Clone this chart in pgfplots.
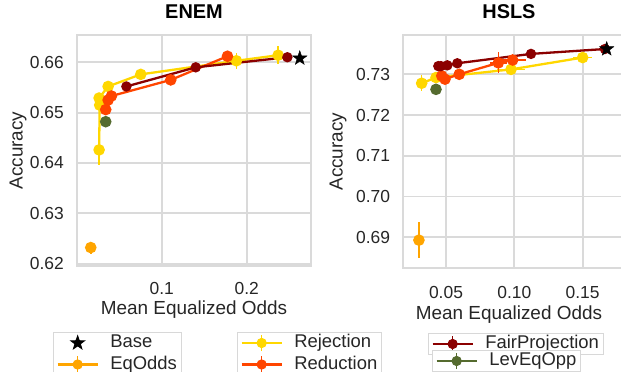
\documentclass[border=0pt]{standalone}
\usepackage{fontspec}
\setmainfont{Liberation Sans}
\usepackage{pgfplots}
\pgfplotsset{compat=1.18}
\usepackage{pgfplotstable}

\definecolor{rejc}{HTML}{FFD700}
\definecolor{eqc}{HTML}{FFA500}
\definecolor{redc}{HTML}{FF4500}
\definecolor{fpc}{HTML}{8B0000}
\definecolor{levc}{HTML}{556B2F}
\definecolor{gridc}{HTML}{DADADA}
\definecolor{legc}{HTML}{D8D8D8}
\definecolor{txt}{HTML}{262626}

\pgfdeclareplotmark{fstar}{%
 \pgfpathmoveto{\pgfpointpolar{90}{\pgfplotmarksize}}%
 \pgfpathlineto{\pgfpointpolar{126}{0.4\pgfplotmarksize}}%
 \pgfpathlineto{\pgfpointpolar{162}{\pgfplotmarksize}}%
 \pgfpathlineto{\pgfpointpolar{198}{0.4\pgfplotmarksize}}%
 \pgfpathlineto{\pgfpointpolar{234}{\pgfplotmarksize}}%
 \pgfpathlineto{\pgfpointpolar{270}{0.4\pgfplotmarksize}}%
 \pgfpathlineto{\pgfpointpolar{306}{\pgfplotmarksize}}%
 \pgfpathlineto{\pgfpointpolar{342}{0.4\pgfplotmarksize}}%
 \pgfpathlineto{\pgfpointpolar{18}{\pgfplotmarksize}}%
 \pgfpathlineto{\pgfpointpolar{54}{0.4\pgfplotmarksize}}%
 \pgfpathclose
 \pgfusepathqfillstroke}

% ENEM data
\pgfplotstableread{
x y ex ey
0.0263 0.6426 0.0005 0.0030
0.0270 0.6515 0.0005 0.0008
0.0263 0.6529 0.0005 0.0008
0.0369 0.6552 0.0005 0.0005
0.0753 0.6576 0.0010 0.0004
0.1878 0.6603 0.0060 0.0016
0.2369 0.6614 0.0030 0.0018
}\enemrej
\pgfplotstableread{
x y ex ey
0.0341 0.6506 0.0010 0.0004
0.0369 0.6525 0.0010 0.0004
0.0408 0.6533 0.0010 0.0004
0.1106 0.6565 0.0020 0.0004
0.1773 0.6612 0.0020 0.0004
}\enemred
\pgfplotstableread{
x y ex ey
0.0584 0.6552 0.0010 0.0003
0.1400 0.6590 0.0010 0.0003
0.2478 0.6610 0.0010 0.0003
}\enemfp
\pgfplotstableread{
x y ex ey
0.0165 0.6232 0.0010 0.0012
}\enemeq
\pgfplotstableread{
x y ex ey
0.0341 0.6482 0.0005 0.0003
}\enemlev
\pgfplotstableread{
x y
0.2624 0.6608
}\enembase

% HSLS data
\pgfplotstableread{
x y ex ey
0.0322 0.7278 0.0040 0.0020
0.0427 0.7292 0.0020 0.0008
0.0976 0.7312 0.0100 0.0008
0.1500 0.7341 0.0070 0.0008
}\hslsrej
\pgfplotstableread{
x y ex ey
0.0469 0.7296 0.0020 0.0008
0.0493 0.7288 0.0020 0.0008
0.0597 0.7300 0.0020 0.0008
0.0883 0.7328 0.0060 0.0026
0.0988 0.7335 0.0100 0.0015
}\hslsred
\pgfplotstableread{
x y ex ey
0.0444 0.7320 0.0010 0.0004
0.0463 0.7320 0.0010 0.0004
0.0510 0.7322 0.0010 0.0004
0.0583 0.7327 0.0010 0.0004
0.1122 0.7350 0.0010 0.0004
0.1663 0.7362 0.0010 0.0004
}\hslsfp
\pgfplotstableread{
x y ex ey
0.0302 0.6893 0.0005 0.0045
}\hslseq
\pgfplotstableread{
x y ex ey
0.0427 0.7263 0.0005 0.0003
}\hslslev
\pgfplotstableread{
x y
0.1676 0.7362
}\hslsbase

\pgfplotsset{
 myax/.style={scale only axis, grid=major,
   major grid style={color=gridc, line width=1.8bp},
   axis line style={color=gridc, line width=2bp},
   major tick length=0pt, tick style={draw=none},
   tick label style={font=\fontsize{17.5}{20}\selectfont, color=txt},
   label style={font=\fontsize{19}{22}\selectfont, color=txt},
   title style={font=\bfseries\fontsize{20}{24}\selectfont, color=black},
   xticklabel style={anchor=north, inner sep=0pt},
   yticklabel style={anchor=east, inner sep=0pt, xshift=-13bp},
 },
 ser/.style={color=#1, line width=2.3bp, mark=*, mark size=4.6bp, mark options={solid},
   error bars/.cd, x dir=both, x explicit, y dir=both, y explicit,
   error bar style={line width=1.5bp}, error mark=none, /pgfplots/.cd},
 errimg/.style={legend image code/.code={
   \draw[##1, line width=2.3bp] (0bp,0bp) -- (40bp,0bp);
   \draw[##1, line width=1.5bp] (20bp,-8bp) -- (20bp,8bp);
   \fill[##1] (20bp,0bp) circle (4.6bp);}},
 staimg/.style={legend image code/.code={
   \path[draw=none, fill=none] (0bp,-8bp) rectangle (40bp,8bp);
   \draw[mark repeat=2, mark phase=2, ##1] plot coordinates {(0bp,0bp) (20bp,0bp) (40bp,0bp)};}},
 legax/.style={hide axis, scale only axis, width=1bp, height=1bp, xmin=0, xmax=1, ymin=0, ymax=1,
   anchor=south west,
   legend cell align=left,
   legend style={at={(axis description cs:0,1)}, anchor=north west, draw=legc, line width=1bp,
     fill=white, text=txt, font=\fontsize{18.5}{21}\selectfont,
     inner xsep=3bp, inner ysep=1bp, row sep=2.5bp,
     nodes={inner sep=1.5bp, text height=12.5bp, text depth=3.5bp},
     /tikz/every odd column/.append style={column sep=10bp},
     /tikz/every even column/.append style={column sep=6bp}}},
}

\begin{document}
\begin{tikzpicture}
\useasboundingbox (0bp,0bp) rectangle (621bp,372bp);
\clip (0bp,0bp) rectangle (621bp,372bp);

% ENEM
\begin{axis}[myax, at={(77bp,106bp)}, anchor=south west, width=234bp, height=231bp,
  xmin=0.0003, xmax=0.2756, ymin=0.61954, ymax=0.66542,
  xtick={0.1,0.2}, xticklabels={0.1,0.2},
  ytick={0.62,0.63,0.64,0.65,0.66}, yticklabels={0.62,0.63,0.64,0.65,0.66},
  xticklabel style={yshift=-16bp},
  title={ENEM}, title style={at={(axis description cs:0.5,1.0736)}, anchor=center},
  xlabel={Mean Equalized Odds}, xlabel style={at={(axis description cs:0.5,-0.21)}, anchor=base},
  ylabel={Accuracy}, ylabel style={at={(axis description cs:-0.252,0.5)}, anchor=center},
]
\addplot[ser=eqc] table[x=x,y=y,x error=ex,y error=ey] {\enemeq};
\addplot[ser=rejc] table[x=x,y=y,x error=ex,y error=ey] {\enemrej};
\addplot[ser=redc] table[x=x,y=y,x error=ex,y error=ey] {\enemred};
\addplot[ser=fpc, mark size=4bp] table[x=x,y=y,x error=ex,y error=ey] {\enemfp};
\addplot[ser=levc] table[x=x,y=y,x error=ex,y error=ey] {\enemlev};
\addplot[only marks, mark=fstar, mark size=7.5bp, black] table[x=x,y=y] {\enembase};
\end{axis}

% HSLS
\begin{axis}[myax, at={(403.3bp,103.7bp)}, anchor=south west, width=221.7bp, height=233.3bp,
  xmin=0.01877, xmax=0.18099, ymin=0.68239, ymax=0.73964,
  xtick={0.05,0.10,0.15}, xticklabels={0.05,0.10,0.15},
  ytick={0.69,0.70,0.71,0.72,0.73}, yticklabels={0.69,0.70,0.71,0.72,0.73},
  xticklabel style={yshift=-18bp},
  title={HSLS}, title style={at={(axis description cs:0.4766,1.0729)}, anchor=center},
  xlabel={Mean Equalized Odds}, xlabel style={at={(axis description cs:0.4766,-0.219)}, anchor=base},
  ylabel={Accuracy}, ylabel style={at={(axis description cs:-0.2945,0.5)}, anchor=center},
]
\addplot[ser=eqc] table[x=x,y=y,x error=ex,y error=ey] {\hslseq};
\addplot[ser=rejc] table[x=x,y=y,x error=ex,y error=ey] {\hslsrej};
\addplot[ser=redc] table[x=x,y=y,x error=ex,y error=ey] {\hslsred};
\addplot[ser=fpc, mark size=4bp] table[x=x,y=y,x error=ex,y error=ey] {\hslsfp};
\addplot[ser=levc] table[x=x,y=y,x error=ex,y error=ey] {\hslslev};
\addplot[only marks, mark=fstar, mark size=7.5bp, black] table[x=x,y=y] {\hslsbase};
\end{axis}

% Legends
\begin{axis}[legax, at={(53bp,39bp)}]
\addlegendimage{staimg, only marks, mark=fstar, mark size=7bp, black}
\addlegendentry{Base}
\addlegendimage{errimg, color=eqc}
\addlegendentry{EqOdds}
\end{axis}
\begin{axis}[legax, at={(237bp,39bp)}]
\addlegendimage{errimg, color=rejc}
\addlegendentry{Rejection}
\addlegendimage{errimg, color=redc}
\addlegendentry{Reduction}
\end{axis}
\begin{axis}[legax, at={(428bp,38bp)}]
\addlegendimage{errimg, color=fpc}
\addlegendentry{FairProjection}
\end{axis}
\begin{axis}[legax, at={(432bp,21bp)}]
\addlegendimage{errimg, color=levc}
\addlegendentry{LevEqOpp}
\end{axis}
\end{tikzpicture}
\end{document}
